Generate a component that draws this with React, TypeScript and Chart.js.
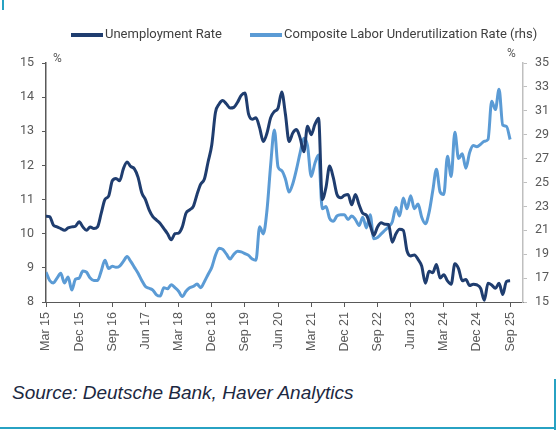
import React, { useEffect, useRef } from "react";
import { Chart, registerables } from "chart.js";

Chart.register(...registerables);

// ---- data (monthly, Mar 2015 .. Sep 2025) ----
const tickLabels = [
  "Mar 15", "Dec 15", "Sep 16", "Jun 17", "Mar 18", "Dec 18", "Sep 19", "Jun 20",
  "Mar 21", "Dec 21", "Sep 22", "Jun 23", "Mar 24", "Dec 24", "Sep 25",
];

const seriesNames = ["Unemployment Rate", "Composite Labor Underutilization Rate (rhs)"];

const unemploymentRate = [
  10.51, 10.5, 10.25, 10.2, 10.15, 10.1, 10.17, 10.2, 10.22, 10.35,
  10.2, 10.1, 10.2, 10.15, 10.2, 10.6, 11.0, 11.1, 11.55, 11.62,
  11.55, 11.9, 12.1, 11.97, 11.9, 11.65, 11.2, 11.0, 10.7, 10.5,
  10.4, 10.3, 10.15, 10.0, 9.82, 10.0, 10.02, 10.2, 10.6, 10.7,
  10.8, 11.15, 11.45, 11.6, 12.1, 12.6, 13.55, 13.8, 13.9, 13.8,
  13.68, 13.7, 13.85, 14.05, 14.12, 13.5, 13.35, 13.4, 13.1, 12.7,
  12.95, 13.4, 13.58, 13.68, 14.15, 13.5, 12.7, 12.95, 13.05, 12.8,
  12.4, 13.15, 12.9, 13.2, 13.38, 11.0, 11.35, 11.98, 11.64, 11.15,
  11.05, 11.12, 11.15, 10.85, 11.15, 10.85, 10.6, 10.54, 10.25, 9.95,
  10.2, 10.32, 10.28, 10.27, 9.75, 10.0, 10.13, 10.1, 9.5, 9.35,
  9.38, 9.25, 9.05, 8.55, 8.9, 8.86, 9.1, 8.7, 8.8, 8.62,
  8.52, 9.12, 8.98, 8.62, 8.66, 8.48, 8.52, 8.5, 8.4, 8.05,
  8.55, 8.5, 8.4, 8.55, 8.22, 8.6, 8.62,
];

const compositeRate = [
  17.5, 16.8, 16.6, 17.0, 17.4, 16.6, 17.1, 16.0, 16.9, 17.0,
  17.6, 17.5, 17.0, 16.8, 16.8, 17.6, 18.5, 17.8, 18.0, 17.9,
  18.0, 18.4, 18.8, 18.4, 17.9, 17.4, 16.8, 16.3, 16.15, 16.0,
  15.6, 15.5, 16.2, 16.1, 16.45, 16.2, 15.9, 15.45, 15.9, 16.2,
  16.3, 16.5, 16.2, 16.7, 17.3, 17.9, 18.9, 19.5, 19.4, 19.0,
  18.6, 19.0, 19.25, 19.2, 19.05, 18.9, 18.6, 18.5, 21.3, 20.7,
  22.7, 26.5, 29.4, 26.3, 26.0, 25.3, 24.2, 24.9, 26.1, 27.5,
  28.7, 28.1, 25.5, 26.6, 27.3, 22.8, 23.0, 22.0, 21.75, 22.2,
  22.3, 22.3, 21.9, 22.2, 21.9, 21.4, 22.1, 21.2, 22.3, 20.3,
  20.4, 20.7, 21.0, 21.3, 21.7, 22.9, 22.2, 23.7, 22.8, 23.9,
  22.8, 23.2, 22.1, 21.55, 22.5, 24.3, 26.1, 24.2, 24.0, 27.2,
  25.5, 29.2, 27.0, 27.4, 26.2, 27.5, 28.1, 28.0, 28.2, 28.45,
  28.6, 31.8, 31.1, 32.8, 29.8, 29.7, 28.6,
];

const DARK = "#1f3d6f";
const LIGHT = "#5b9bd5";
const AXIS_TEXT = "#595959";
const TEAL = "#27a2c3";

export default function App() {
  const ref = useRef<HTMLCanvasElement>(null);

  useEffect(() => {
    const W = 558;
    const H = 360;
    const plotLeft = 46;
    const plotRight = 523;
    const plotTop = 63;
    const plotBottom = 302;

    const overlay = {
      id: "overlay",
      afterDraw(chart: any) {
        const ctx = chart.ctx;
        ctx.save();
        // legend
        ctx.font = "13px Roboto";
        ctx.textBaseline = "middle";
        ctx.textAlign = "left";
        const ly = 35;
        let x = 71;
        const colors = [DARK, LIGHT];
        seriesNames.forEach((name, i) => {
          ctx.fillStyle = colors[i];
          ctx.fillRect(x, ly - 2, 32, 4);
          ctx.fillStyle = "#404040";
          ctx.fillText(name, x + 34, ly);
          x = x + 34 + ctx.measureText(name).width + 28;
        });
        // % unit labels
        ctx.font = "12px Roboto";
        ctx.fillStyle = AXIS_TEXT;
        ctx.fillText("%", 53, 59);
        ctx.fillText("%", 507, 54);
        ctx.restore();
      },
    };

    const chart = new Chart(ref.current as HTMLCanvasElement, {
      type: "line",
      data: {
        datasets: [
          {
            label: seriesNames[0],
            data: unemploymentRate.map((y, i) => ({ x: i, y })),
            borderColor: DARK,
            backgroundColor: DARK,
            borderWidth: 3,
            pointRadius: 0,
            cubicInterpolationMode: "monotone",
            yAxisID: "y",
          },
          {
            label: seriesNames[1],
            data: compositeRate.map((y, i) => ({ x: i, y })),
            borderColor: LIGHT,
            backgroundColor: LIGHT,
            borderWidth: 3,
            pointRadius: 0,
            cubicInterpolationMode: "monotone",
            yAxisID: "y1",
          },
        ],
      },
      options: {
        responsive: false,
        animation: false,
        layout: { padding: { top: plotTop, left: 0, right: 0, bottom: 0 } },
        plugins: {
          legend: { display: false },
          tooltip: { enabled: false },
        },
        scales: {
          x: {
            type: "linear",
            min: 0,
            max: 129.5,
            afterFit(s: any) {
              s.height = H - plotBottom;
            },
            border: { display: true, color: AXIS_TEXT, width: 1 },
            grid: { drawOnChartArea: false, drawTicks: true, tickLength: 5, color: AXIS_TEXT },
            ticks: {
              stepSize: 9,
              includeBounds: false,
              autoSkip: false,
              minRotation: 90,
              maxRotation: 90,
              padding: 5,
              color: AXIS_TEXT,
              font: { family: "'Liberation Sans', Arial", size: 12.5 },
              callback: (v: any) => {
                const n = Number(v);
                if (n % 9 !== 0) return null;
                const lbl = tickLabels[n / 9];
                return lbl === undefined ? null : lbl;
              },
            },
          },
          y: {
            position: "left",
            min: 8,
            max: 15,
            afterFit(s: any) {
              s.width = plotLeft;
            },
            border: { display: true, color: AXIS_TEXT, width: 1.5 },
            grid: { drawOnChartArea: false, drawTicks: true, tickLength: 4, color: AXIS_TEXT },
            ticks: {
              stepSize: 1,
              padding: 8,
              color: AXIS_TEXT,
              font: { family: "Roboto", size: 12.5 },
            },
          },
          y1: {
            position: "right",
            min: 15,
            max: 35,
            afterFit(s: any) {
              s.width = W - plotRight;
            },
            border: { display: true, color: "#bfbfbf", width: 1.5 },
            grid: { drawOnChartArea: false, drawTicks: true, tickLength: 4, color: "#bfbfbf" },
            ticks: {
              stepSize: 2,
              padding: 8,
              color: AXIS_TEXT,
              font: { family: "Roboto", size: 12.5 },
            },
          },
        },
      } as any,
      plugins: [overlay],
    });

    return () => chart.destroy();
  }, []);

  return (
    <div
      style={{
        position: "fixed",
        left: 0,
        top: 0,
        width: 558,
        height: 430,
        background: "#ffffff",
        overflow: "hidden",
      }}
    >
      <canvas
        ref={ref}
        width={558}
        height={360}
        style={{ position: "absolute", left: 0, top: 0, width: 558, height: 360, display: "block" }}
      />
      <div
        style={{
          position: "absolute",
          left: 12,
          top: 382,
          fontFamily: "'Liberation Sans', Arial, sans-serif",
          fontStyle: "italic",
          fontSize: 19,
          lineHeight: "22px",
          color: "#1c2841",
          whiteSpace: "nowrap",
        }}
      >
        Source: Deutsche Bank, Haver Analytics
      </div>
      <div style={{ position: "absolute", left: 2, top: 0, width: 2, height: 10, background: TEAL }} />
      <div style={{ position: "absolute", left: 554, top: 379, width: 2, height: 51, background: TEAL }} />
      <div style={{ position: "absolute", left: 0, top: 427, width: 556, height: 2, background: TEAL }} />
    </div>
  );
}
